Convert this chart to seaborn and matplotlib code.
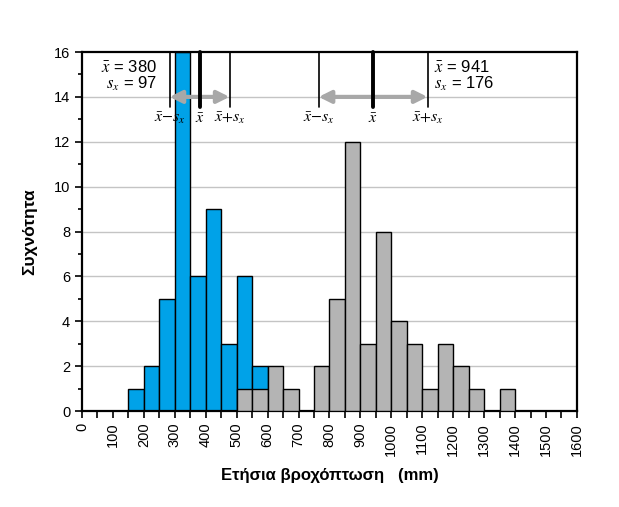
import numpy as np
import pandas as pd
import matplotlib
matplotlib.use("Agg")
import matplotlib.pyplot as plt
import seaborn as sns

# ---- data ----
bin_edges = list(range(0, 1650, 50))
blue_left = [150, 200, 250, 300, 350, 400, 450, 500, 550]
blue_counts = [1, 2, 5, 16, 6, 9, 3, 6, 2]
gray_left = [500, 550, 600, 650, 700, 750, 800, 850, 900, 950, 1000, 1050,
             1100, 1150, 1200, 1250, 1300, 1350]
gray_counts = [1, 1, 2, 1, 0, 2, 5, 12, 3, 8, 4, 3, 1, 3, 2, 1, 0, 1]
mean_a, sd_a = 380, 97
mean_b, sd_b = 941, 176
x_ticks = list(range(0, 1700, 100))
y_ticks = list(range(0, 18, 2))

sns.set_theme(style="white")
plt.rcParams['font.family'] = ['Liberation Sans', 'DejaVu Sans']
plt.rcParams['mathtext.fontset'] = 'stix'
plt.rcParams['text.color'] = 'black'
plt.rcParams['axes.labelcolor'] = 'black'
plt.rcParams['xtick.color'] = 'black'
plt.rcParams['ytick.color'] = 'black'

fig = plt.figure(figsize=(6.19, 5.07), dpi=100)
ax = fig.add_axes([0.1325, 0.1893, 0.7995, 0.7081])

for y in y_ticks[1:-1]:
    ax.axhline(y, color='#c4c4c4', lw=1.0, zorder=0)

df_b = pd.DataFrame({'x': [l + 25 for l in blue_left], 'w': blue_counts})
df_g = pd.DataFrame({'x': [l + 25 for l in gray_left], 'w': gray_counts})
sns.histplot(data=df_b, x='x', weights='w', bins=bin_edges, ax=ax,
             color='#00a2e8', alpha=1, edgecolor='black', linewidth=1.0, zorder=2)
sns.histplot(data=df_g, x='x', weights='w', bins=bin_edges, ax=ax,
             color='#b4b4b4', alpha=1, edgecolor='black', linewidth=1.0, zorder=3)
for p in ax.patches:
    if p.get_height() == 0:
        p.set_visible(False)

ax.set_xlim(0, 1600)
ax.set_ylim(0, 16)
ax.set_xticks(x_ticks)
ax.set_xticks(list(range(50, 1600, 100)), minor=True)
ax.set_yticks(y_ticks)
ax.set_yticks(list(range(1, 16, 2)), minor=True)
ax.set_xticklabels([str(v) for v in x_ticks], rotation=90, fontsize=10.5)
ax.set_yticklabels([str(v) for v in y_ticks], fontsize=10.5)
ax.tick_params(axis='both', which='both', direction='out', length=5, width=1.2,
               color='black', labelcolor='black', bottom=True, left=True)
ax.tick_params(axis='y', which='minor', length=3)
for s in ax.spines.values():
    s.set_visible(True)
    s.set_color('black')
    s.set_linewidth(1.6)

ax.set_xlabel('Ετήσια βροχόπτωση   (mm)', fontsize=12, fontweight='bold', labelpad=9, color='black')
ax.set_ylabel('Συχνότητα', fontsize=12.5, fontweight='bold', labelpad=12, color='black')

def annotate_group(m, s):
    for xv, lw in [(m - s, 1.2), (m, 2.8), (m + s, 1.2)]:
        ax.plot([xv, xv], [13.55, 16], color='black', lw=lw, zorder=5, clip_on=False)
    ax.annotate('', xy=(m - s, 14), xytext=(m + s, 14),
                arrowprops=dict(arrowstyle='<|-|>', color='#a8a8a8', lw=3,
                                mutation_scale=18, shrinkA=0, shrinkB=0), zorder=4)
    ax.text(m - s, 13.05, r'$\bar{x}{-}s_x$', ha='center', va='center', fontsize=11.5)
    ax.text(m, 13.05, r'$\bar{x}$', ha='center', va='center', fontsize=11.5)
    ax.text(m + s, 13.05, r'$\bar{x}{+}s_x$', ha='center', va='center', fontsize=11.5)

annotate_group(mean_a, sd_a)
annotate_group(mean_b, sd_b)

ax.text(243, 15.35, r'$\bar{x}$' + ' = %d' % mean_a, ha='right', va='center', fontsize=12)
ax.text(243, 14.6, r'$s_x$' + ' = %d' % sd_a, ha='right', va='center', fontsize=12)
ax.text(1139, 15.35, r'$\bar{x}$' + ' = %d' % mean_b, ha='left', va='center', fontsize=12)
ax.text(1139, 14.6, r'$s_x$' + ' = %d' % sd_b, ha='left', va='center', fontsize=12)

fig.savefig('out.png', dpi=100)
